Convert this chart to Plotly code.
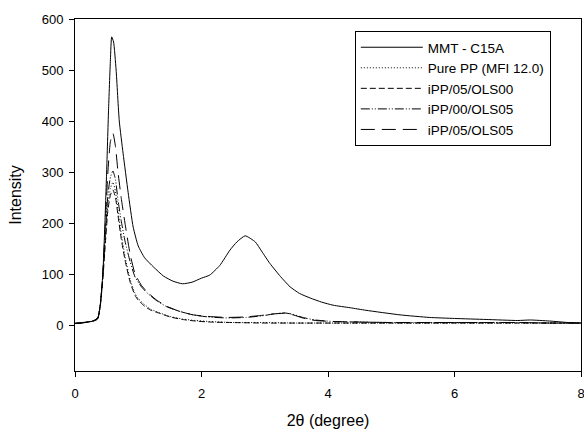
import plotly.graph_objects as go

# ---- data ----
mmt_x = [0, 0.1, 0.2, 0.3, 0.36, 0.4, 0.44, 0.47, 0.5, 0.53, 0.56, 0.58, 0.61, 0.65, 0.7, 0.76,
         0.84, 0.92, 1.0, 1.1, 1.24, 1.4, 1.55, 1.7, 1.85, 2.0, 2.13, 2.29, 2.45, 2.56, 2.69, 2.85,
         2.95, 3.08, 3.25, 3.4, 3.55, 3.72, 3.9, 4.08, 4.35, 4.6, 5.14, 5.6, 6.0, 6.5, 7.0, 7.2,
         7.5, 7.8, 8.0]
mmt_y = [4, 5, 6, 8, 12, 40, 100, 190, 300, 420, 520, 565, 555, 500, 400, 337,
         260, 192, 155, 132, 114, 96, 86, 81, 84, 92, 98, 117, 147, 163, 175, 163,
         145, 121, 95, 75, 62, 53, 45, 39, 34, 29, 20, 15, 13, 11, 9, 10,
         8, 5, 4]

upper_x = [0, 0.1, 0.2, 0.3, 0.36, 0.4, 0.44, 0.48, 0.52, 0.56, 0.6, 0.64, 0.68, 0.73, 0.79, 0.87,
           0.95, 1.05, 1.15, 1.29, 1.45, 1.65, 1.87, 2.1, 2.4, 2.7, 2.95, 3.15, 3.3, 3.45, 3.6,
           3.8, 4.1, 4.5, 5.0, 5.5, 6.0, 6.5, 7.0, 7.5, 8.0]
ols0505_y = [3, 4, 6, 9, 14, 40, 100, 200, 300, 360, 376, 350, 300, 250, 200, 140,
             100, 78, 64, 49, 37, 27, 20, 17, 15, 16, 19, 22, 23, 20, 14,
             9, 7, 6, 5, 5, 5, 5, 5, 4, 4]
ols0005_y = [3, 4, 6, 9, 14, 40, 100, 180, 255, 290, 302, 285, 245, 205, 165, 125,
             94, 75, 62, 48, 36, 27, 20, 16, 14, 15, 18, 22, 24, 21, 15,
             10, 7, 6, 5, 5, 5, 5, 5, 4, 4]

lower_x = [0, 0.1, 0.2, 0.3, 0.36, 0.4, 0.44, 0.48, 0.52, 0.56, 0.6, 0.64, 0.68, 0.73, 0.79, 0.87,
           0.95, 1.0, 1.1, 1.2, 1.34, 1.5, 1.7, 1.9, 2.13, 2.5, 3.0, 3.5, 4.0, 5.0, 6.0, 7.0, 8.0]
purepp_y = [3, 4, 6, 9, 14, 40, 95, 170, 235, 268, 280, 262, 225, 180, 135, 90,
            62, 52, 40, 31, 24, 17, 12, 9, 7, 5, 5, 4, 4, 4, 4, 4, 4]
ols0500_y = [3, 4, 6, 9, 14, 38, 90, 160, 225, 255, 265, 250, 215, 170, 128, 85,
             58, 49, 37, 29, 23, 16, 11, 8, 6, 5, 4, 4, 4, 4, 4, 4, 4]

series_names = ["MMT - C15A", "Pure PP (MFI 12.0)", "iPP/05/OLS00", "iPP/00/OLS05", "iPP/05/OLS05"]
x_ticks = [0, 2, 4, 6, 8]
y_ticks = [0, 100, 200, 300, 400, 500, 600]

FONT = "Arial, 'Liberation Sans', sans-serif"

fig = go.Figure()
traces = [
    (mmt_x, mmt_y, "solid"),
    (lower_x, purepp_y, "1px,2px"),
    (lower_x, ols0500_y, "6px,3px"),
    (upper_x, ols0005_y, "9px,2px,1px,2px,1px,2px"),
    (upper_x, ols0505_y, "14px,7px"),
]
for name, (xs, ys, dash) in zip(series_names, traces):
    fig.add_trace(go.Scatter(x=xs, y=ys, name=name, mode="lines",
                             line=dict(color="black", width=1, dash=dash, shape="spline", smoothing=0.5)))

axis_common = dict(showline=True, linecolor="black", linewidth=1, mirror=True,
                   ticks="outside", ticklen=5, tickcolor="black", tickwidth=1,
                   showgrid=False, zeroline=False, ticklabeloverflow="allow",
                   tickfont=dict(size=13, color="black", family=FONT))

fig.update_xaxes(range=[0, 8], tickvals=x_ticks, **axis_common, ticklabelstandoff=5,
                 title=dict(text="2θ (degree)", font=dict(size=16, color="black", family=FONT), standoff=23))
fig.update_yaxes(range=[-90, 600], tickvals=y_ticks, **axis_common, ticklabelstandoff=3,
                 title=dict(text="Intensity", font=dict(size=16, color="black", family=FONT), standoff=16))

fig.update_layout(
    width=584, height=429,
    margin=dict(l=75, r=3, t=19, b=58, autoexpand=False),
    paper_bgcolor="white", plot_bgcolor="white",
    font=dict(family=FONT, color="black"),
    legend=dict(x=0.553, y=0.966, xanchor="left", yanchor="top",
                bordercolor="black", borderwidth=1, bgcolor="white",
                font=dict(size=13.5, color="black", family=FONT),
                tracegroupgap=0, itemwidth=62),
    showlegend=True,
)

fig.write_html("out.html", config={"displayModeBar": False},
               post_script="document.body.style.margin='0';document.body.style.padding='0';")
